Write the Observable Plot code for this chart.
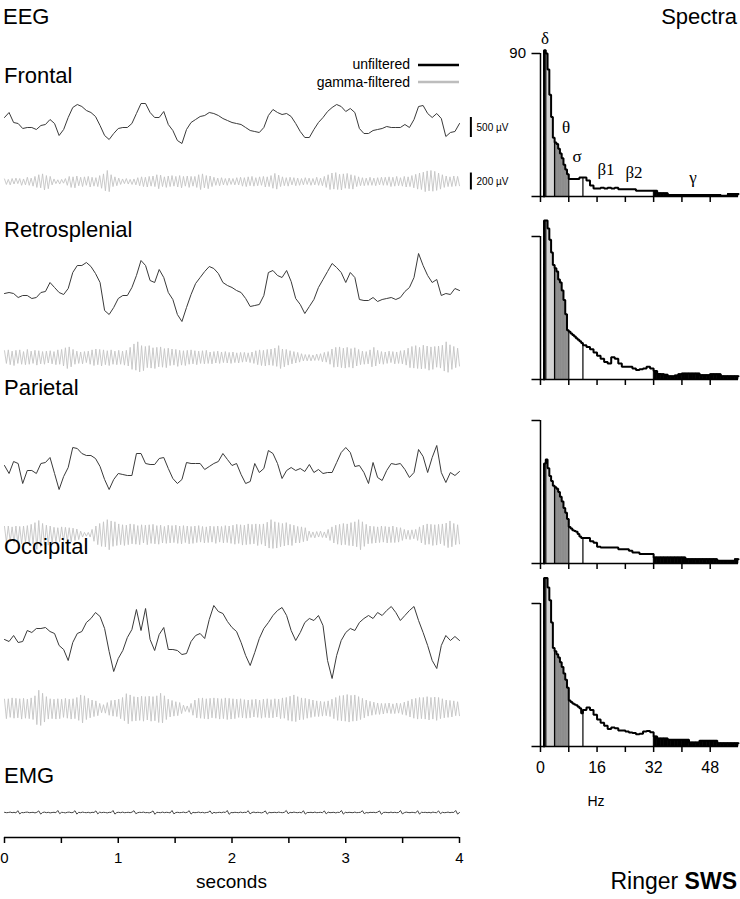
<!DOCTYPE html>
<html><head><meta charset="utf-8">
<script src="https://cdn.jsdelivr.net/npm/d3@7"></script>
<script src="https://cdn.jsdelivr.net/npm/@observablehq/plot@0.6"></script>
<style>
body{margin:0;background:#fff;}
#root{position:relative;width:740px;height:899px;overflow:hidden;background:#fff;}
</style></head><body><div id="root"></div>
<script>
// ================= DATA =================
// time axis (seconds)
const timeTicks = [0, 0.5, 1, 1.5, 2, 2.5, 3, 3.5, 4];
const timeLabels = [0, 1, 2, 3, 4];

// unfiltered EEG (µV), sampled evenly over 0–4 s
const frontalRaw = [200,325,75,50,-75,-50,-50,-100,0,25,
150,50,-250,-100,200,450,525,475,375,325,
225,0,-250,-350,-200,-75,-50,-50,50,300,
550,550,325,200,200,350,25,-125,-375,-450,
-100,75,150,225,250,325,300,250,175,125,
75,50,25,-50,-125,-150,-175,-50,250,400,
325,275,300,225,50,-150,-300,-300,-100,75,
200,350,450,525,475,350,425,325,-75,-200,
-200,-125,-100,-75,-25,-50,-50,-50,25,-50,
150,475,500,300,200,300,175,-275,-175,-150,
50];
const retroRaw = [-75,-50,-75,-175,-125,-125,-200,-175,-50,-25,
200,75,-50,-100,50,450,625,625,700,600,
425,200,-500,-600,-425,-200,-125,-125,75,375,
750,625,250,200,525,325,-50,-225,-600,-775,
-425,-100,175,325,475,600,550,425,200,125,
75,0,-50,-200,-400,-375,-350,-125,450,500,
375,325,500,225,-200,-350,-575,-400,-225,75,
275,475,675,575,450,200,450,325,-225,-250,
-250,-175,-275,-225,-200,-175,-225,-175,-25,75,
325,925,625,375,200,275,-125,-75,-100,50,
0];
const parietalRaw = [125,-75,225,175,-325,0,0,-75,175,200,
325,-75,-475,-150,75,575,550,425,375,375,
300,100,-225,-475,-225,-75,-100,-125,-125,425,
425,175,150,150,300,325,50,-200,-325,-225,
200,175,175,175,25,100,175,225,425,275,
125,175,-100,-325,-275,175,-50,50,500,425,
175,-200,0,75,0,50,-25,150,-50,25,
-75,-50,-50,200,450,575,450,100,125,-50,
-325,200,-175,-250,0,175,150,175,25,-175,
-50,525,350,-50,325,625,-50,-300,-50,-125,
-25];
const occipitalRaw = [25,-25,125,-50,-25,250,200,300,300,325,
225,175,-125,-225,-500,-50,175,225,450,550,
700,600,300,-275,-775,-450,-250,75,275,775,
250,800,25,-250,150,325,-225,-225,-250,-350,
-325,-25,125,175,50,525,875,725,675,475,
325,225,-50,-375,-625,-300,50,300,450,625,
750,825,625,250,0,200,450,550,500,625,
375,-500,-950,-375,0,200,300,250,450,550,
625,550,700,625,750,850,700,500,625,750,
850,500,200,-125,-500,-700,-125,125,0,100,
0];

// gamma-filtered EEG (µV), successive half-wave extremes over 0–4 s
const frontalGamma = [30,-35,25,-40,35,-30,40,-25,35,-45,30,-40,50,-45,40,-55,60,-70,80,-75,
90,-100,70,-85,60,-40,30,-25,20,-30,25,-20,35,-45,60,-70,55,-75,65,-50,
50,-60,55,-45,60,-65,50,-55,45,-60,70,-80,90,-110,130,-120,80,-60,55,-50,
40,-35,30,-25,35,-30,25,-35,30,-40,45,-50,55,-60,50,-65,60,-55,65,-60,
80,-85,75,-60,55,-70,65,-60,70,-55,60,-65,70,-75,60,-55,65,-70,60,-55,
60,-70,80,-95,90,-75,70,-85,65,-60,50,-45,40,-50,45,-40,35,-45,40,-35,
35,-40,45,-40,50,-55,45,-60,55,-50,60,-55,45,-50,55,-45,60,-65,55,-60,
70,-80,95,-90,75,-60,55,-50,45,-55,50,-40,45,-50,40,-45,35,-40,45,-35,
40,-45,35,-40,50,-45,40,-50,60,-70,80,-95,100,-90,105,-95,85,-100,90,-80,
95,-85,80,-90,70,-60,55,-50,45,-50,40,-45,50,-45,40,-50,45,-40,50,-45,
50,-45,55,-60,50,-55,60,-50,45,-55,60,-65,55,-60,70,-75,85,-90,100,-95,
110,-120,125,-110,130,-115,120,-105,100,-90,80,-70,65,-60,55,-60,65,-55,60,-50];
const retroGamma = [80,-70,90,-85,75,-95,85,-70,90,-80,70,-85,95,-80,75,-70,85,-90,80,-75,
70,-80,75,-65,80,-75,70,-85,90,-80,95,-100,115,-130,125,-110,95,-80,75,-70,
65,-75,70,-60,75,-80,90,-95,100,-85,95,-100,90,-85,80,-95,90,-80,75,-85,
85,-80,75,-90,85,-100,120,-140,160,-150,185,-170,140,-155,130,-120,140,-125,115,-130,
120,-110,125,-115,105,-120,110,-95,100,-90,95,-105,85,-90,80,-95,85,-80,90,-75,
80,-85,75,-70,80,-75,85,-70,65,-75,70,-65,75,-70,65,-60,70,-65,60,-70,
65,-60,55,-65,60,-55,60,-50,55,-60,65,-70,80,-85,90,-95,85,-100,95,-90,
100,-95,110,-105,140,-130,100,-110,95,-90,80,-75,70,-65,60,-55,45,-40,35,-40,
35,-40,30,-35,40,-35,45,-50,60,-55,70,-80,100,-115,120,-110,125,-120,110,-125,
120,-115,105,-125,115,-100,95,-85,75,-80,70,-75,90,-110,120,-100,85,-75,70,-80,
65,-70,75,-60,70,-75,65,-70,80,-75,85,-90,110,-120,130,-125,140,-130,120,-135,
145,-130,135,-150,125,-140,130,-115,135,-125,145,-160,185,-175,150,-140,130,-120,110,-100];
const parietalGamma = [95,-90,100,-85,90,-95,100,-105,95,-110,100,-95,105,-115,120,-110,140,-175,165,-150,
130,-120,110,-125,100,-95,85,-90,80,-85,90,-80,85,-75,80,-85,75,-70,65,-60,
40,-30,25,-20,25,-30,60,-80,100,-120,130,-140,150,-145,175,-180,160,-140,150,-130,
125,-120,115,-130,110,-120,125,-110,120,-115,105,-120,115,-100,110,-120,115,-105,120,-110,
105,-115,110,-100,95,-105,110,-100,105,-95,110,-105,100,-110,105,-95,100,-110,95,-105,
100,-95,105,-90,95,-100,90,-95,100,-90,95,-105,100,-90,95,-100,105,-95,100,-105,
110,-115,120,-105,115,-125,110,-120,125,-115,120,-110,125,-130,120,-115,125,-135,145,-160,
175,-165,150,-160,140,-145,130,-135,140,-125,120,-130,110,-100,95,-100,90,-85,80,-75,
40,-35,30,-40,35,-30,40,-35,30,-40,60,-70,90,-100,110,-115,120,-125,130,-120,
125,-130,140,-135,150,-145,175,-180,150,-140,120,-110,100,-105,95,-100,90,-95,100,-90,
95,-100,90,-95,100,-95,85,-90,80,-70,60,-55,50,-60,55,-50,60,-70,90,-100,
110,-120,125,-115,120,-130,115,-125,120,-110,125,-130,135,-155,160,-145,130,-120,115,-110];
const occipitalGamma = [110,-120,115,-105,125,-115,120,-110,115,-125,120,-115,110,-120,125,-130,150,-190,215,-200,
180,-160,140,-125,115,-120,110,-125,115,-120,110,-105,120,-115,110,-125,115,-120,130,-140,
160,-170,150,-130,120,-110,100,-95,90,-85,60,-50,45,-55,70,-80,95,-90,100,-95,
110,-120,130,-145,175,-180,160,-150,140,-145,135,-140,145,-150,140,-135,145,-150,140,-145,
150,-165,180,-170,150,-130,110,-100,95,-90,80,-85,70,-60,40,-35,30,-45,60,-80,
100,-110,120,-115,125,-120,115,-125,120,-110,125,-115,120,-125,115,-120,125,-130,120,-125,
115,-120,110,-105,115,-110,105,-115,100,-110,105,-100,110,-105,100,-115,110,-105,115,-110,
105,-110,115,-100,110,-120,125,-115,130,-140,145,-150,160,-155,140,-135,125,-130,120,-115,
110,-105,100,-95,90,-95,85,-90,80,-85,90,-95,110,-120,130,-140,150,-145,155,-150,
165,-160,155,-150,160,-145,140,-130,120,-110,100,-90,85,-80,75,-70,65,-70,60,-65,
60,-55,65,-60,55,-60,65,-55,60,-70,75,-80,90,-100,110,-115,120,-125,130,-120,
130,-125,140,-135,130,-125,135,-140,130,-120,115,-110,100,-105,95,-100,90,-85,80,-85];

// EMG (µV)
const emg = [5,-5,0,10,-5,5,-10,45,-35,0,
-5,5,10,-5,0,5,-10,5,40,-40,
0,10,-5,5,-10,0,5,-5,50,-30,
5,0,-10,5,10,-5,0,45,-40,5,
-5,10,0,-5,5,-10,5,0,40,-35,
10,-5,5,0,-10,5,0,50,-40,0,
5,-5,10,-5,0,5,-5,10,45,-30,
-5,5,0,10,-5,0,-10,5,40,-45,
5,0,-5,10,-5,5,0,-10,50,-35,
0,5,-5,0,10,-5,5,45,-40,5,
-5,0,10,-5,5,-10,0,5,40,-30,
5,-10,0,5,-5,10,0,50,-45,0,
-5,5,0,-5,10,-5,5,0,45,-35,
0,10,-5,5,0,-10,5,40,-40,5,
-5,0,5,-5,10,0,-5,5,50,-30,
5,-5,10,0,-5,5,-10,45,-40,0,
0,5,-5,10,-5,0,5,-5,40,-35,
10,-5,0,5,-10,5,0,50,-40,5,
-5,5,0,-5,10,-5,0,5,45,-30,
0,-10,5,0,5,-5,10,40,-45,0,
5,0,-5,10,-5,5,-5,0,50,-35,
-5,10,0,-5,5,0,-10,45,-40,5,
0,5,-5,5,-10,10,0,-5,40,-30,
5,-5,0,10,-5,5,0,50,-40,0];

// spectra: bin start frequencies (Hz); last bin ends at hzMax
const hzBins = [1,1.5,2,2.5,3,3.5,4,4.5,5,5.5,6,6.5,7,7.5,8,8.5,9,9.5,10,10.5,11,11.5,
12,13,14,15,16,17,18,19,20,21,22,23,24,25,26,27,28,29,30,31,32,33,34,35,36,37,38,39,40,41,42,43,44,45,46,47,48,49,50,51,52,53,54,55];
const hzMax = 56;
const hzTicks = [0, 8, 16, 24, 32, 40, 48];
const hzLabels = [0, 16, 32, 48];
const powerTick = 90;
const bandEdges = [1.5, 4, 8, 12, 32];   // δ | θ | σ | β | γ
const specFrontal = [92,90,80,64,50,37,34,33,30,27,24,20,17,14,11,11,11,11,11,11,12,12,
12,10,7,5,5,5.5,5,5.5,5,5.5,4.6,4.6,4.6,4.6,4.6,3.6,3.6,3.6,3.6,3.6,3.6,2,2,2,
1,1,1,1,1,1,1,1,1,1,1,1,1,1,1,0.4,0.4,1.5,1.5,1.5];
const specRetro = [100,100,95,88,80,72,70,68,63,61,56,50,41,31,30,29,28,27,26,25,24,23,
21.5,20.5,19,17,15,13,11,10,14,13,10,8,8,8,7,6,6.5,7,8,7,5.4,3.5,3.3,3,2,2,2.5,3.3,
3.7,3.7,3.7,3.7,3.7,2.7,2.7,2.7,3.3,3.3,3.3,2,2,2,2,2];
const specParietal = [63,65.5,60,55,52,49,48,47,45,42,39,35,32,28,23,22,21,20.5,20,18.5,17,16,
16,16,14,13,10.5,10,10,10,10,10,9,9,9,8,7,7,6,6,6,6,
3.8,3.8,3.8,3.8,3.8,3.8,3.8,3.8,3.8,2.7,2.7,2.7,2.7,2.7,2.7,2.7,2.7,2.7,1.7,1.7,1.7,1.7,1.7,2.7];
const specOccipital = [106,106,100,92,78,62,60,58,56,53,50,46,42,37,29,28,27,26.5,26,25,24,21,
23,24.5,23,20,17,15,13,11,12,11.5,10,10,9.5,8.8,8.5,7.7,8,9.5,9.8,9,6.3,5,5,5,
4.2,4.2,4.2,4.2,4.2,4.2,2.5,2.5,2.5,3.6,3.6,3.6,3.6,3.6,2,2,2,2,2,2];

// ================= DRAWING =================
const FONT = '"Liberation Sans", Arial, Helvetica, sans-serif';
const root = document.getElementById("root");
function place(node, left, top, width) {
  const d = document.createElement("div");
  d.style.position = "absolute";
  d.style.left = left + "px";
  d.style.top = top + "px";
  d.style.width = width + "px";
  d.appendChild(node);
  root.appendChild(d);
}
const baseStyle = {background: "transparent", overflow: "visible", fontFamily: FONT, color: "black"};

const LEFT_W = 520, ML = 4, MR = 61;
function tracePlot(values, center, height, perPx, stroke, sw, extra = []) {
  const n = values.length;
  const data = values.map((v, i) => ({t: i * 4 / (n - 1), v}));
  const half = height / 2 * perPx;
  const el = Plot.plot({
    width: LEFT_W, height, marginLeft: ML, marginRight: MR, marginTop: 0, marginBottom: 0,
    x: {domain: [0, 4], axis: null},
    y: {domain: [-half, half], axis: null},
    style: baseStyle,
    marks: [Plot.line(data, {x: "t", y: "v", stroke, strokeWidth: sw, strokeLinejoin: "round"}), ...extra]
  });
  place(el, 0, center - height / 2, LEFT_W);
}

const RAW = 25, GAM = 11.8;
const rawStroke = "#3a3a3a", gamStroke = "#c4c4c4";
tracePlot(frontalRaw, 125, 80, RAW, rawStroke, 1, [
  Plot.ruleX([4.1], {y1: -300, y2: 200, stroke: "black", strokeWidth: 2}),
  Plot.text(["500 µV"], {x: 4.15, y: -50, textAnchor: "start", fontSize: 10, fill: "black"})
]);
tracePlot(frontalGamma, 181, 40, GAM, gamStroke, 0.9, [
  Plot.ruleX([4.1], {y1: -100, y2: 100, stroke: "black", strokeWidth: 2}),
  Plot.text(["200 µV"], {x: 4.15, y: 0, textAnchor: "start", fontSize: 10, fill: "black"})
]);
tracePlot(retroRaw, 290, 90, RAW, rawStroke, 1);
tracePlot(retroGamma, 357, 40, GAM, gamStroke, 0.9);
tracePlot(parietalRaw, 470, 80, RAW, rawStroke, 1);
tracePlot(parietalGamma, 534, 40, GAM, gamStroke, 0.9);
tracePlot(occipitalRaw, 640, 90, RAW, rawStroke, 1);
tracePlot(occipitalGamma, 708, 50, GAM, gamStroke, 0.9);
tracePlot(emg, 812, 20, RAW, "#444", 1);

// time axis
{
  const el = Plot.plot({
    width: LEFT_W, height: 40, marginLeft: ML, marginRight: MR, marginTop: 9, marginBottom: 31,
    x: {domain: [0, 4]},
    y: {domain: [0, 1], axis: null},
    style: {...baseStyle, fontSize: "15px"},
    marks: [
      Plot.ruleY([0], {stroke: "black", strokeWidth: 1.5}),
      Plot.axisX({ticks: timeTicks, tickSize: 6, tickPadding: 9, strokeWidth: 1.5, fontSize: 15,
        tickFormat: d => timeLabels.includes(d) ? String(d) : "", label: null})
    ]
  });
  place(el, 0, 837 - 9, LEFT_W);
}

// spectra
function spectrumPlot(vals, baseline, showLabels, show90) {
  const H = 200, MB = 40, PX90 = 143;
  const bins = hzBins.map((h, i) => ({x1: h, x2: i + 1 < hzBins.length ? hzBins[i + 1] : hzMax, p: vals[i]}));
  const fillOf = f => f < bandEdges[0] ? "white" : f < bandEdges[1] ? "#d3d3d3" : f < bandEdges[2] ? "#8d8d8d" : f < bandEdges[4] ? "white" : "black";
  const step = [{x: bins[0].x1, p: 0}];
  bins.forEach(b => { step.push({x: b.x1, p: b.p}); step.push({x: b.x2, p: b.p}); });
  const valueAt = f => bins.find(b => b.x1 === f).p;
  const marks = [
    Plot.rect(bins, {x1: "x1", x2: "x2", y1: 0, y2: "p", fill: d => fillOf(d.x1), stroke: d => fillOf(d.x1), strokeWidth: 0.6}),
    Plot.ruleX(bandEdges.slice(0, 4), {x: d => d, y1: 0, y2: d => valueAt(d), stroke: "black", strokeWidth: 1.2}),
    Plot.line(step, {x: "x", y: "p", stroke: "black", strokeWidth: 2, strokeLinejoin: "miter"}),
    Plot.ruleY([0], {x1: -2.4, x2: hzMax, stroke: "black", strokeWidth: 1.5}),
    Plot.ruleX([0], {y1: 0, y2: powerTick, stroke: "black", strokeWidth: 1.5}),
    Plot.ruleY([powerTick], {x1: -2.4, x2: 0, stroke: "black", strokeWidth: 1.5}),
    Plot.axisX({ticks: hzTicks, tickSize: 6, tickPadding: 9, strokeWidth: 1.5, fontSize: 16,
      tickFormat: d => showLabels && hzLabels.includes(d) ? String(d) : "", label: null})
  ];
  if (show90) marks.push(Plot.text([powerTick], {x: -2.4, y: d => d, text: d => String(d), dx: -6, textAnchor: "end", fontSize: 15, fill: "black"}));
  const el = Plot.plot({
    width: 240, height: H, marginLeft: 31.5, marginRight: 2, marginTop: H - MB - PX90, marginBottom: MB,
    x: {domain: [-2.4, hzMax]},
    y: {domain: [0, powerTick], axis: null},
    style: {...baseStyle, fontSize: "16px"},
    marks
  });
  place(el, 500, baseline - (H - MB), 240);
}
spectrumPlot(specFrontal, 196, false, true);
spectrumPlot(specRetro, 379, false, false);
spectrumPlot(specParietal, 563, false, false);
spectrumPlot(specOccipital, 746, true, false);

// ============ text overlay ============
const ov = d3.select(root).append("svg")
  .attr("width", 740).attr("height", 899)
  .style("position", "absolute").style("left", "0px").style("top", "0px")
  .style("pointer-events", "none").style("font-family", FONT);
function txt(s, x, y, size, anchor = "start", family = FONT) {
  return ov.append("text").attr("x", x).attr("y", y).attr("font-size", size)
    .attr("text-anchor", anchor).attr("font-family", family).attr("fill", "black").text(s);
}
txt("EEG", 3, 24, 22);
txt("Spectra", 737, 24, 22, "end");
txt("Frontal", 4, 83, 22);
txt("Retrosplenial", 4, 237, 22);
txt("Parietal", 4, 395, 22);
txt("Occipital", 4, 554, 22);
txt("EMG", 4, 783, 22);
txt("seconds", 231.5, 888, 19, "middle");
txt("Hz", 596, 806, 14, "middle");
const rs = ov.append("text").attr("x", 737).attr("y", 889).attr("font-size", 23).attr("text-anchor", "end").attr("fill", "black");
rs.append("tspan").text("Ringer ");
rs.append("tspan").attr("font-weight", "bold").text("SWS");
// legend
txt("unfiltered", 410, 69, 14, "end");
txt("gamma-filtered", 410, 87, 14, "end");
ov.append("line").attr("x1", 418).attr("x2", 459).attr("y1", 65).attr("y2", 65).attr("stroke", "black").attr("stroke-width", 2.5);
ov.append("line").attr("x1", 418).attr("x2", 459).attr("y1", 82).attr("y2", 82).attr("stroke", "#bdbdbd").attr("stroke-width", 2.5);
// band labels
const SERIF = '"Liberation Serif", "DejaVu Serif", serif';
txt("δ", 545, 44, 17, "middle", SERIF);
txt("θ", 566, 133, 17, "middle", SERIF);
txt("σ", 577, 162, 17, "middle", SERIF);
txt("β1", 606, 175, 17, "middle", SERIF);
txt("β2", 634, 178, 17, "middle", SERIF);
txt("γ", 693, 183, 17, "middle", SERIF);
</script></body></html>
